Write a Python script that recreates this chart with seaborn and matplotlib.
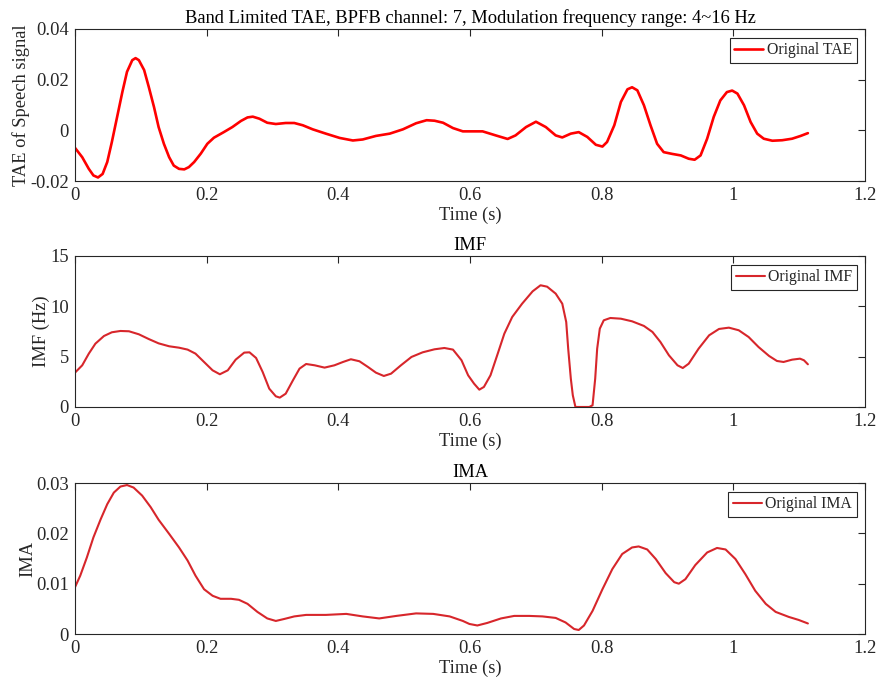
import matplotlib
matplotlib.use("Agg")
import matplotlib.pyplot as plt
import pandas as pd
import seaborn as sns

# ---------------- data ----------------
tae_t = [0.000, 0.011, 0.021, 0.028, 0.035, 0.042, 0.049, 0.056, 0.064, 0.072,
         0.079, 0.087, 0.092, 0.097, 0.105, 0.112, 0.120, 0.127, 0.135, 0.143,
         0.150, 0.158, 0.166, 0.173, 0.181, 0.191, 0.201, 0.211, 0.226, 0.239,
         0.252, 0.262, 0.270, 0.280, 0.292, 0.305, 0.320, 0.333, 0.346, 0.361,
         0.381, 0.402, 0.422, 0.437, 0.457, 0.478, 0.498, 0.518, 0.534, 0.546,
         0.559, 0.574, 0.589, 0.619, 0.639, 0.657, 0.669, 0.685, 0.700, 0.715,
         0.730, 0.740, 0.753, 0.765, 0.778, 0.791, 0.801, 0.808, 0.819, 0.829,
         0.839, 0.846, 0.854, 0.864, 0.874, 0.884, 0.894, 0.907, 0.920, 0.932,
         0.941, 0.950, 0.960, 0.970, 0.980, 0.990, 0.998, 1.006, 1.016, 1.026,
         1.036, 1.046, 1.059, 1.074, 1.089, 1.102, 1.113]
tae_v = [-0.0069, -0.0106, -0.0152, -0.0178, -0.0186, -0.0172, -0.0125, -0.0046, 0.0053, 0.0152,
         0.0231, 0.0277, 0.0285, 0.0277, 0.0238, 0.0172, 0.0092, 0.0013, -0.0053, -0.0106,
         -0.0139, -0.0152, -0.0154, -0.0145, -0.0125, -0.0092, -0.0053, -0.0029, -0.0007, 0.0013,
         0.0037, 0.0051, 0.0054, 0.0046, 0.0030, 0.0025, 0.0029, 0.0029, 0.0020, 0.0004,
         -0.0013, -0.0030, -0.0040, -0.0036, -0.0022, -0.0013, 0.0004, 0.0028, 0.0040, 0.0038,
         0.0030, 0.0009, -0.0004, -0.0004, -0.0020, -0.0034, -0.0020, 0.0013, 0.0034, 0.0013,
         -0.0020, -0.0028, -0.0013, -0.0007, -0.0026, -0.0057, -0.0064, -0.0046, 0.0020, 0.0112,
         0.0162, 0.0170, 0.0158, 0.0099, 0.0020, -0.0053, -0.0086, -0.0093, -0.0099, -0.0112,
         -0.0116, -0.0099, -0.0033, 0.0053, 0.0118, 0.0151, 0.0157, 0.0145, 0.0099, 0.0033,
         -0.0013, -0.0033, -0.0041, -0.0039, -0.0033, -0.0022, -0.0011]

imf_t = [0.000, 0.011, 0.021, 0.031, 0.044, 0.056, 0.069, 0.082, 0.097, 0.112,
         0.127, 0.143, 0.158, 0.171, 0.183, 0.196, 0.209, 0.220, 0.232, 0.244,
         0.257, 0.265, 0.275, 0.285, 0.295, 0.305, 0.311, 0.320, 0.331, 0.341,
         0.351, 0.364, 0.379, 0.394, 0.407, 0.419, 0.432, 0.445, 0.457, 0.469,
         0.480, 0.495, 0.511, 0.528, 0.546, 0.561, 0.574, 0.587, 0.597, 0.606,
         0.614, 0.621, 0.631, 0.642, 0.652, 0.664, 0.679, 0.695, 0.707, 0.717,
         0.730, 0.740, 0.746, 0.749, 0.753, 0.756, 0.760, 0.781, 0.786, 0.790,
         0.793, 0.797, 0.803, 0.813, 0.829, 0.846, 0.864, 0.877, 0.889, 0.902,
         0.915, 0.923, 0.932, 0.947, 0.963, 0.978, 0.993, 1.008, 1.023, 1.038,
         1.054, 1.066, 1.076, 1.089, 1.101, 1.107, 1.113]
imf_v = [3.41, 4.14, 5.30, 6.29, 7.05, 7.42, 7.55, 7.52, 7.22, 6.75,
         6.32, 6.03, 5.89, 5.70, 5.30, 4.47, 3.64, 3.25, 3.64, 4.70,
         5.40, 5.43, 4.87, 3.48, 1.82, 1.06, 0.93, 1.32, 2.65, 3.81,
         4.27, 4.14, 3.91, 4.14, 4.47, 4.74, 4.54, 3.97, 3.41, 3.08,
         3.31, 4.14, 4.97, 5.43, 5.73, 5.86, 5.70, 4.64, 3.15, 2.32,
         1.72, 1.99, 3.15, 5.30, 7.28, 8.94, 10.26, 11.49, 12.09, 11.95,
         11.26, 10.26, 8.44, 5.79, 2.81, 1.16, 0.00, 0.00, 0.17, 2.81,
         5.79, 7.78, 8.61, 8.84, 8.77, 8.51, 8.05, 7.45, 6.46, 5.13,
         4.14, 3.87, 4.30, 5.79, 7.12, 7.75, 7.88, 7.62, 6.95, 5.96,
         5.07, 4.57, 4.47, 4.70, 4.80, 4.64, 4.24]

ima_t = [0.000, 0.008, 0.018, 0.028, 0.039, 0.049, 0.059, 0.069, 0.079, 0.089,
         0.102, 0.115, 0.127, 0.143, 0.158, 0.171, 0.183, 0.196, 0.209, 0.221,
         0.237, 0.249, 0.262, 0.277, 0.292, 0.305, 0.318, 0.333, 0.351, 0.381,
         0.412, 0.437, 0.462, 0.488, 0.518, 0.544, 0.569, 0.589, 0.599, 0.611,
         0.626, 0.647, 0.667, 0.690, 0.710, 0.730, 0.745, 0.758, 0.765, 0.773,
         0.786, 0.801, 0.816, 0.831, 0.846, 0.856, 0.869, 0.882, 0.897, 0.910,
         0.917, 0.927, 0.942, 0.960, 0.975, 0.988, 1.003, 1.018, 1.033, 1.049,
         1.064, 1.084, 1.099, 1.113]
ima_v = [0.0093, 0.0116, 0.0152, 0.0192, 0.0228, 0.0258, 0.0281, 0.0293, 0.0296, 0.0291,
         0.0275, 0.0252, 0.0227, 0.0199, 0.0172, 0.0146, 0.0116, 0.0089, 0.0076, 0.0070,
         0.0070, 0.0068, 0.0060, 0.0044, 0.0031, 0.0026, 0.0030, 0.0035, 0.0038, 0.0038,
         0.0040, 0.0035, 0.0031, 0.0036, 0.0041, 0.0040, 0.0035, 0.0026, 0.0020, 0.0017,
         0.0022, 0.0031, 0.0036, 0.0036, 0.0035, 0.0032, 0.0023, 0.0010, 0.0008, 0.0017,
         0.0046, 0.0089, 0.0129, 0.0159, 0.0172, 0.0174, 0.0168, 0.0149, 0.0121, 0.0103,
         0.0100, 0.0109, 0.0137, 0.0162, 0.0171, 0.0168, 0.0149, 0.0119, 0.0086, 0.0060,
         0.0044, 0.0034, 0.0028, 0.0021]

x_ticks = [0, 0.2, 0.4, 0.6, 0.8, 1.0, 1.2]
x_ticklabels = ["0", "0.2", "0.4", "0.6", "0.8", "1", "1.2"]
tae_yticks = [-0.02, 0, 0.02, 0.04]
tae_yticklabels = ["-0.02", "0", "0.02", "0.04"]
imf_yticks = [0, 5, 10, 15]
imf_yticklabels = ["0", "5", "10", "15"]
ima_yticks = [0, 0.01, 0.02, 0.03]
ima_yticklabels = ["0", "0.01", "0.02", "0.03"]

titles = ["Band Limited TAE, BPFB channel: 7, Modulation frequency range: 4~16 Hz",
          "IMF", "IMA"]
ylabels = ["TAE of Speech signal", "IMF (Hz)", "IMA"]
legend_labels = ["Original TAE", "Original IMF", "Original IMA"]

# ---------------- style ----------------
sns.set_theme(style="white")
plt.rcParams["font.family"] = ["Liberation Serif", "DejaVu Serif"]
axcol = "#262626"
fs = 13.3

fig = plt.figure(figsize=(8.78, 6.87), dpi=100)
positions = [
    [0.0854, 0.7365, 0.9000, 0.2213],
    [0.0854, 0.4076, 0.9000, 0.2198],
    [0.0854, 0.0771, 0.9000, 0.2198],
]
series = [
    (tae_t, tae_v, "#ff0000", 1.9, (-0.02, 0.04), tae_yticks, tae_yticklabels),
    (imf_t, imf_v, "#d7262b", 1.5, (0, 15), imf_yticks, imf_yticklabels),
    (ima_t, ima_v, "#d7262b", 1.5, (0, 0.03), ima_yticks, ima_yticklabels),
]

for i, (pos, (t, v, col, lw, ylim, yt, ytl)) in enumerate(zip(positions, series)):
    ax = fig.add_axes(pos)
    df = pd.DataFrame({"t": t, "v": v})
    sns.lineplot(data=df, x="t", y="v", ax=ax, color=col, linewidth=lw,
                 label=legend_labels[i], sort=False, estimator=None)
    ax.set_xlim(0, 1.2)
    ax.set_ylim(*ylim)
    ax.set_xticks(x_ticks)
    ax.set_xticklabels(x_ticklabels)
    ax.set_yticks(yt)
    ax.set_yticklabels(ytl)
    ax.tick_params(direction="in", top=True, right=True, length=5, width=0.8,
                   colors=axcol, labelsize=fs)
    ax.tick_params(axis="x", pad=4.5)
    ax.tick_params(axis="y", pad=4.5)
    for s in ax.spines.values():
        s.set_color(axcol)
        s.set_linewidth(0.8)
        s.set_visible(True)
    ax.set_xlabel("Time (s)", fontsize=fs, color=axcol, labelpad=2)
    ax.set_ylabel(ylabels[i], fontsize=fs, color=axcol, labelpad=0)
    ax.set_title(titles[i], fontsize=fs, color="black", pad=4)
    leg = ax.legend(loc="upper right", frameon=True, fancybox=False,
                    edgecolor=axcol, framealpha=1, fontsize=11.3,
                    borderaxespad=0.55, handlelength=1.85, handletextpad=0.2,
                    borderpad=0.3)
    leg.get_frame().set_linewidth(0.8)
    ax.grid(False)

fig.savefig("out.png", dpi=100)
